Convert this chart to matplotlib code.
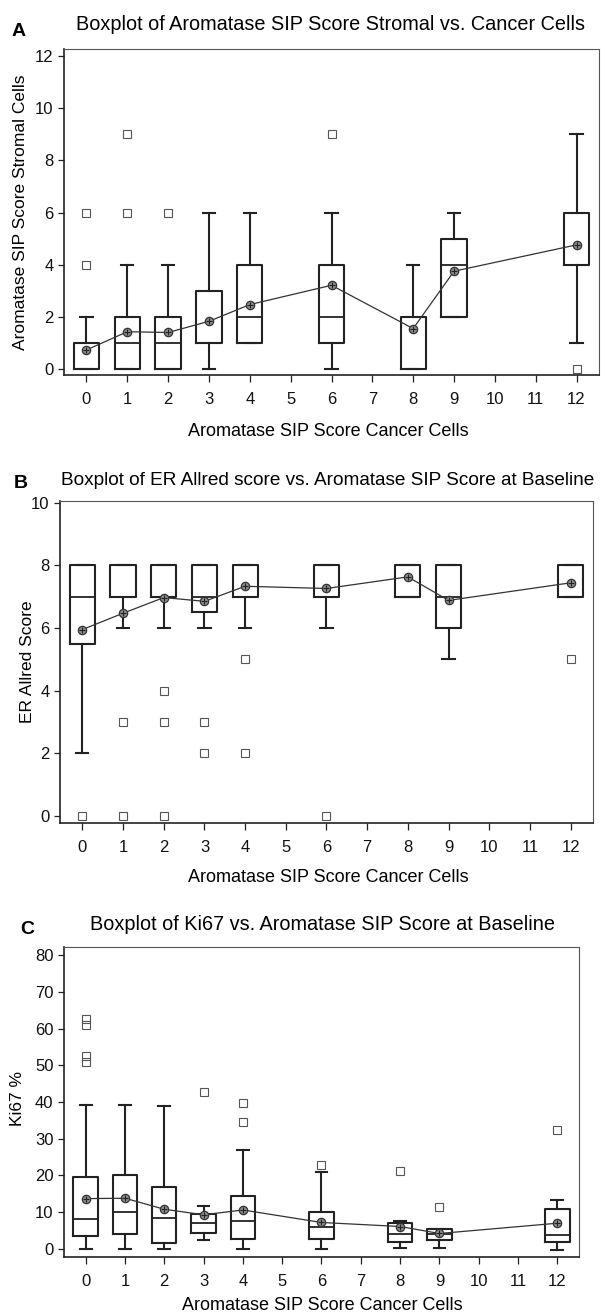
import numpy as np
import matplotlib
matplotlib.use("Agg")
import matplotlib.pyplot as plt

plt.rcParams['font.family'] = ['Liberation Sans', 'DejaVu Sans']

cancer = [0, 1, 2, 3, 4, 6, 8, 9, 12]
xtick_vals = list(range(13))

# A: aromatase SIP score, stromal cells
a_q1 = [0, 0, 0, 1, 1, 1, 0, 2, 4]
a_med = [0, 1, 1, 1, 2, 2, 2, 4, 6]
a_q3 = [1, 2, 2, 3, 4, 4, 2, 5, 6]
a_lo = [0, 0, 0, 0, 1, 0, 0, 2, 1]
a_hi = [2, 4, 4, 6, 6, 6, 4, 6, 9]
a_fliers = [[4, 6], [6, 9], [6], [], [], [9], [], [], [0]]
a_mean = [0.73, 1.43, 1.40, 1.83, 2.47, 3.21, 1.55, 3.75, 4.76]

# B: ER Allred score
b_q1 = [5.5, 7, 7, 6.5, 7, 7, 7, 6, 7]
b_med = [7, 7, 7, 7, 7, 7, 7, 7, 7]
b_q3 = [8, 8, 8, 8, 8, 8, 8, 8, 8]
b_lo = [2, 6, 6, 6, 6, 6, 7, 5, 7]
b_hi = [8, 8, 8, 8, 8, 8, 8, 8, 8]
b_fliers = [[0], [3, 0], [4, 3, 0], [3, 2], [5, 2], [0], [], [], [5]]
b_mean = [5.95, 6.47, 6.97, 6.85, 7.33, 7.26, 7.63, 6.88, 7.44]

# C: Ki67 %
c_q1 = [3.4, 4.1, 1.6, 4.3, 2.8, 2.7, 1.9, 2.3, 1.8]
c_med = [8.2, 10.1, 8.5, 7.0, 7.6, 6.1, 4.0, 4.0, 3.7]
c_q3 = [19.5, 20.2, 16.8, 9.4, 14.5, 10.1, 7.0, 5.5, 11.0]
c_lo = [0, 0, 0, 2.5, 0, 0, 0.3, 0.3, -0.4]
c_hi = [39.2, 39.2, 38.8, 11.7, 26.9, 20.9, 7.5, 5.5, 13.3]
c_fliers = [[51, 52.5, 61, 62.5], [], [], [42.8], [34.6, 39.7], [22.9], [21.3], [11.5], [32.3]]
c_mean = [13.7, 13.8, 10.8, 9.3, 10.6, 7.2, 6.1, 4.2, 7.0]


def make_stats(q1, med, q3, lo, hi, fliers, mean):
    out = []
    for i in range(len(q1)):
        out.append(dict(q1=q1[i], med=med[i], q3=q3[i], whislo=lo[i],
                        whishi=hi[i], fliers=fliers[i], mean=mean[i]))
    return out


def draw(ax, stats, means, ylim, yticks):
    ink = '#222222'
    ax.bxp(stats, positions=cancer, widths=0.62, capwidths=0.3,
           showmeans=False, manage_ticks=False,
           boxprops=dict(color=ink, lw=1.5),
           whiskerprops=dict(color=ink, lw=1.5),
           capprops=dict(color=ink, lw=1.5),
           medianprops=dict(color=ink, lw=1.3),
           flierprops=dict(marker='s', mfc='none', mec='#555555', ms=5.5, mew=0.8))
    ax.plot(cancer, means, color='#333333', lw=0.9, zorder=4)
    ax.plot(cancer, means, 'o', mfc='#8a8a8a', mec='#333333', ms=6, mew=0.9, zorder=5)
    ax.plot(cancer, means, '+', color='#222222', ms=4, mew=0.8, zorder=6)
    ax.set_xlim(-0.55, 12.55)
    ax.set_ylim(*ylim)
    ax.set_xticks(xtick_vals)
    ax.set_yticks(yticks)
    ax.tick_params(direction='out', length=4, width=0.9, labelsize=12,
                   top=False, right=False, color=ink, labelcolor='#111111')
    ax.tick_params(axis='x', length=5, pad=7)
    for s in ['left', 'bottom']:
        ax.spines[s].set_linewidth(1.2)
        ax.spines[s].set_color(ink)
    for s in ['top', 'right']:
        ax.spines[s].set_linewidth(0.8)
        ax.spines[s].set_color('#555555')


W, H = 606, 1315
fig = plt.figure(figsize=(W / 100, H / 100), dpi=100)

axA = fig.add_axes([64 / W, 1 - 375 / H, 535 / W, 326 / H])
axB = fig.add_axes([60 / W, 1 - 823 / H, 533 / W, 322 / H])
axC = fig.add_axes([64 / W, 1 - 1257 / H, 515 / W, 310 / H])

draw(axA, make_stats(a_q1, a_med, a_q3, a_lo, a_hi, a_fliers, a_mean), a_mean,
     (-0.23, 12.27), [0, 2, 4, 6, 8, 10, 12])
draw(axB, make_stats(b_q1, b_med, b_q3, b_lo, b_hi, b_fliers, b_mean), b_mean,
     (-0.22, 10.05), [0, 2, 4, 6, 8, 10])
draw(axC, make_stats(c_q1, c_med, c_q3, c_lo, c_hi, c_fliers, c_mean), c_mean,
     (-2.2, 82.2), [0, 10, 20, 30, 40, 50, 60, 70, 80])

tsize = 14.3
fig.text(330 / W, 1 - 25 / H, 'Boxplot of Aromatase SIP Score Stromal vs. Cancer Cells',
         ha='center', va='center', fontsize=tsize)
fig.text(19 / W, 1 - 32 / H, 'A', ha='center', va='center', fontsize=14, fontweight='bold')
fig.text(328 / W, 1 - 481 / H, 'Boxplot of ER Allred score vs. Aromatase SIP Score at Baseline',
         ha='center', va='center', fontsize=13.7)
fig.text(21 / W, 1 - 483 / H, 'B', ha='center', va='center', fontsize=14, fontweight='bold')
fig.text(322 / W, 1 - 925 / H, 'Boxplot of Ki67 vs. Aromatase SIP Score at Baseline',
         ha='center', va='center', fontsize=tsize)
fig.text(27 / W, 1 - 930 / H, 'C', ha='center', va='center', fontsize=14, fontweight='bold')

xl = 'Aromatase SIP Score Cancer Cells'
fig.text(328 / W, 1 - 432 / H, xl, ha='center', va='center', fontsize=13)
fig.text(328 / W, 1 - 878 / H, xl, ha='center', va='center', fontsize=13)
fig.text(322 / W, 1 - 1306 / H, xl, ha='center', va='center', fontsize=13)

fig.text(21 / W, 1 - 212 / H, 'Aromatase SIP Score Stromal Cells', rotation=90,
         ha='center', va='center', fontsize=12.5)
fig.text(28 / W, 1 - 662 / H, 'ER Allred Score', rotation=90,
         ha='center', va='center', fontsize=12.5)
fig.text(18 / W, 1 - 1098 / H, 'Ki67 %', rotation=90,
         ha='center', va='center', fontsize=12.5)

fig.savefig('out.png', dpi=100)
